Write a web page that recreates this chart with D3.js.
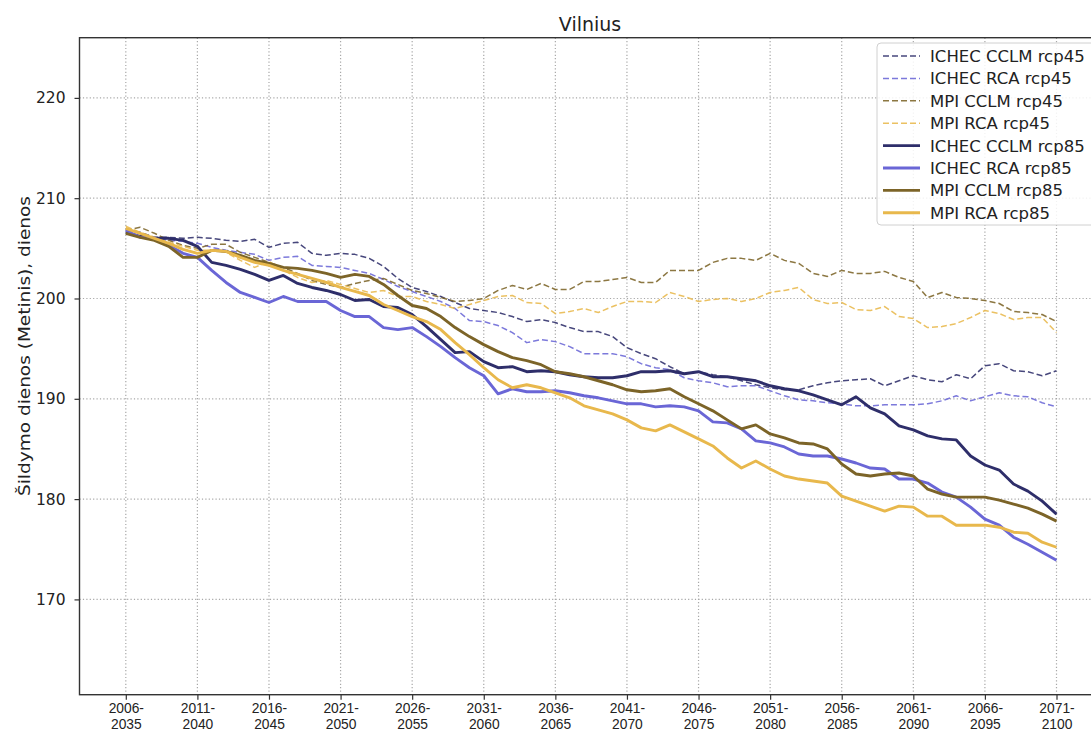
<!DOCTYPE html>
<html><head><meta charset="utf-8">
<script src="https://cdn.jsdelivr.net/npm/d3@7"></script>
<style>
html,body{margin:0;padding:0;background:#fff;}
svg{display:block;font-family:"DejaVu Sans",sans-serif;}
</style></head>
<body>
<svg id="chart" width="1091" height="733"></svg>
<script>
const categories = ["2006-2035","2007-2036","2008-2037","2009-2038","2010-2039","2011-2040","2012-2041","2013-2042","2014-2043","2015-2044",
"2016-2045","2017-2046","2018-2047","2019-2048","2020-2049","2021-2050","2022-2051","2023-2052","2024-2053","2025-2054",
"2026-2055","2027-2056","2028-2057","2029-2058","2030-2059","2031-2060","2032-2061","2033-2062","2034-2063","2035-2064",
"2036-2065","2037-2066","2038-2067","2039-2068","2040-2069","2041-2070","2042-2071","2043-2072","2044-2073","2045-2074",
"2046-2075","2047-2076","2048-2077","2049-2078","2050-2079","2051-2080","2052-2081","2053-2082","2054-2083","2055-2084",
"2056-2085","2057-2086","2058-2087","2059-2088","2060-2089","2061-2090","2062-2091","2063-2092","2064-2093","2065-2094",
"2066-2095","2067-2096","2068-2097","2069-2098","2070-2099","2071-2100"];

const xTickLabels = ["2006-2035","2011-2040","2016-2045","2021-2050","2026-2055","2031-2060","2036-2065","2041-2070","2046-2075","2051-2080","2056-2085","2061-2090","2066-2095","2071-2100"];
const yTicks = [170,180,190,200,210,220];

const ICHEC_CCLM_rcp45 = [206.8,206.6,206.1,206.1,206.0,206.1,206.0,205.8,205.7,205.9,
205.1,205.5,205.6,204.5,204.3,204.5,204.4,204.0,203.2,202.0,
201.1,200.7,200.2,199.6,199.0,198.8,198.6,198.2,197.7,197.9,
197.6,197.1,196.7,196.7,196.2,195.1,194.5,194.0,193.2,192.5,
192.7,192.4,192.2,191.8,191.4,191.1,190.9,190.9,191.3,191.6,
191.8,191.9,192.0,191.3,191.8,192.3,191.9,191.7,192.4,192.0,
193.3,193.5,192.8,192.7,192.3,192.8];
const ICHEC_RCA_rcp45 = [206.9,206.5,206.0,205.8,205.7,205.5,205.1,204.8,204.6,204.4,
203.8,204.1,204.2,203.3,203.2,203.1,202.8,202.5,201.9,201.2,
200.7,200.2,199.7,199.0,197.8,197.7,197.3,196.6,195.6,195.9,
195.7,195.2,194.5,194.5,194.5,194.2,193.5,193.1,192.9,192.1,
191.8,191.6,191.2,191.3,191.3,190.8,190.3,189.9,189.8,189.6,
189.5,189.3,189.3,189.4,189.4,189.4,189.5,189.8,190.3,189.8,
190.2,190.6,190.3,190.2,189.6,189.2];
const MPI_CCLM_rcp45 = [206.8,207.1,206.5,205.8,205.3,205.0,205.4,205.4,204.6,204.1,
203.6,203.1,202.5,201.8,201.4,201.1,201.5,201.8,202.0,201.4,
200.8,200.5,200.1,199.7,199.8,200.0,200.8,201.3,200.9,201.5,
200.9,200.9,201.7,201.7,201.9,202.1,201.6,201.6,202.8,202.8,
202.8,203.6,204.0,204.0,203.8,204.5,203.8,203.5,202.5,202.2,
202.8,202.5,202.5,202.7,202.1,201.7,200.1,200.6,200.1,200.0,
199.8,199.5,198.7,198.6,198.4,197.7];
const MPI_RCA_rcp45 = [207.2,206.6,206.1,205.6,205.2,204.8,204.8,204.6,203.8,203.1,
203.7,202.8,202.1,201.6,201.8,201.4,201.0,200.6,200.8,200.2,
200.2,199.7,199.4,199.0,199.4,199.8,200.2,200.3,199.6,199.5,
198.5,198.7,199.0,198.6,199.2,199.7,199.7,199.6,200.6,200.2,
199.7,199.9,200.0,199.7,200.0,200.6,200.8,201.1,199.9,199.5,
199.6,198.9,198.8,199.2,198.2,198.0,197.1,197.2,197.5,198.1,
198.8,198.5,197.9,198.1,198.1,196.6];
const ICHEC_CCLM_rcp85 = [206.6,206.2,206.0,206.0,205.8,205.2,203.6,203.3,202.9,202.4,
201.8,202.3,201.5,201.1,200.8,200.4,199.8,199.9,199.2,199.1,
198.4,197.2,195.9,194.6,194.7,193.7,193.1,193.2,192.7,192.8,
192.7,192.4,192.2,192.1,192.1,192.3,192.7,192.7,192.8,192.5,
192.7,192.2,192.2,192.0,191.8,191.3,191.0,190.8,190.4,189.9,
189.4,190.2,189.1,188.5,187.3,186.9,186.3,186.0,185.9,184.3,
183.4,182.9,181.5,180.8,179.8,178.5];
const ICHEC_RCA_rcp85 = [206.8,206.1,206.0,205.3,204.5,204.1,202.8,201.6,200.6,200.1,
199.6,200.2,199.7,199.7,199.7,198.8,198.2,198.2,197.1,196.9,
197.1,196.2,195.2,194.1,193.1,192.3,190.5,191.0,190.7,190.7,
190.8,190.6,190.3,190.1,189.8,189.5,189.5,189.2,189.3,189.2,
188.8,187.7,187.6,187.0,185.8,185.6,185.2,184.5,184.3,184.3,
184.0,183.6,183.1,183.0,182.0,182.0,181.6,180.7,180.2,179.2,
178.0,177.4,176.2,175.5,174.7,173.9];
const MPI_CCLM_rcp85 = [206.5,206.1,205.8,205.2,204.1,204.1,204.8,204.7,204.3,203.8,
203.5,203.1,203.0,202.8,202.5,202.1,202.4,202.2,201.4,200.3,
199.3,199.0,198.2,197.1,196.2,195.4,194.7,194.1,193.8,193.4,
192.7,192.5,192.2,191.8,191.4,190.9,190.7,190.8,191.0,190.2,
189.5,188.8,187.9,187.0,187.4,186.5,186.1,185.6,185.5,185.0,
183.5,182.5,182.3,182.5,182.6,182.3,181.0,180.5,180.2,180.2,
180.2,179.9,179.5,179.1,178.5,177.8];
const MPI_RCA_rcp85 = [207.0,206.5,206.0,205.5,204.9,204.5,204.8,204.7,204.1,203.6,
203.3,202.8,202.4,202.0,201.6,201.1,200.7,200.3,199.4,198.8,
198.2,197.7,196.9,195.6,194.4,193.1,191.9,191.1,191.4,191.1,
190.6,190.1,189.3,188.9,188.5,187.9,187.1,186.8,187.4,186.7,
186.0,185.3,184.1,183.1,183.8,183.0,182.3,182.0,181.8,181.6,
180.3,179.8,179.3,178.8,179.3,179.2,178.3,178.3,177.4,177.4,
177.4,177.2,176.7,176.6,175.7,175.2];

const seriesNames = ["ICHEC CCLM rcp45","ICHEC RCA rcp45","MPI CCLM rcp45","MPI RCA rcp45",
                     "ICHEC CCLM rcp85","ICHEC RCA rcp85","MPI CCLM rcp85","MPI RCA rcp85"];
const seriesValues = [ICHEC_CCLM_rcp45, ICHEC_RCA_rcp45, MPI_CCLM_rcp45, MPI_RCA_rcp45,
                      ICHEC_CCLM_rcp85, ICHEC_RCA_rcp85, MPI_CCLM_rcp85, MPI_RCA_rcp85];

const colors = ["#2e2e6a","#6a66d6","#7c6428","#e8b84c","#2e2e6a","#6a66d6","#7c6428","#e8b84c"];
const dashed = [true,true,true,true,false,false,false,false];

const svg = d3.select("#chart");
const pLeft = 79.5, pRight = 1100, pTop = 37.7, pBottom = 694.7;

const x = d3.scalePoint().domain(categories).range([125.8, 1056.5]);
const y = d3.scaleLinear().domain([160.5, 226]).range([pBottom, pTop]);

// grid
const grid = svg.append("g");
grid.selectAll("line.gx").data(xTickLabels).enter().append("line")
  .attr("x1", d => x(d)).attr("x2", d => x(d)).attr("y1", pTop).attr("y2", pBottom)
  .attr("stroke", "#a8a8a8").attr("stroke-width", 1.2).attr("stroke-dasharray", "1.2,2.2");
grid.selectAll("line.gy").data(yTicks).enter().append("line")
  .attr("x1", pLeft).attr("x2", pRight).attr("y1", d => y(d)).attr("y2", d => y(d))
  .attr("stroke", "#a8a8a8").attr("stroke-width", 1.2).attr("stroke-dasharray", "1.2,2.2");

// lines
const line = d3.line().x((d, i) => x(categories[i])).y(d => y(d));
seriesValues.forEach((vals, k) => {
  svg.append("path").datum(vals)
    .attr("d", line)
    .attr("fill", "none")
    .attr("stroke", colors[k])
    .attr("stroke-width", dashed[k] ? 1.5 : 2.9)
    .attr("stroke-opacity", dashed[k] ? 0.88 : 1)
    .attr("stroke-dasharray", dashed[k] ? "6,3" : null)
    .attr("stroke-linejoin", "round");
});

// axes
const xAxis = d3.axisBottom(x).tickValues(xTickLabels).tickSize(5).tickFormat("");
const gx = svg.append("g").attr("transform", `translate(0,${pBottom})`).call(xAxis);
gx.select(".domain").remove();
gx.selectAll(".tick line").attr("stroke", "#333").attr("stroke-width", 1.2);
gx.selectAll(".tick").each(function(d) {
  const parts = d.split("-");
  const g = d3.select(this);
  g.append("text").attr("fill", "#222").attr("font-size", 13.8).attr("text-anchor", "middle")
    .attr("x", 0).attr("y", 18.6).text(parts[0] + "-");
  g.append("text").attr("fill", "#222").attr("font-size", 13.8).attr("text-anchor", "middle")
    .attr("x", 0).attr("y", 34.8).text(parts[1]);
});

const yAxis = d3.axisLeft(y).tickValues(yTicks).tickSize(5).tickPadding(9);
const gy = svg.append("g").attr("transform", `translate(${pLeft},0)`).call(yAxis);
gy.select(".domain").remove();
gy.selectAll(".tick line").attr("stroke", "#333").attr("stroke-width", 1.2);
gy.selectAll(".tick text").attr("fill", "#222").attr("font-size", 15.5)
  .attr("font-family", "DejaVu Sans");

// frame
svg.append("rect").attr("x", pLeft).attr("y", pTop).attr("width", pRight - pLeft).attr("height", pBottom - pTop)
  .attr("fill", "none").attr("stroke", "#333").attr("stroke-width", 1.4);

// title
svg.append("text").attr("x", 590).attr("y", 30.5).attr("text-anchor", "middle")
  .attr("font-size", 19).attr("fill", "#222").text("Vilnius");

// y label
svg.append("text").attr("transform", "translate(30,346) rotate(-90)")
  .attr("text-anchor", "middle").attr("font-size", 16).attr("fill", "#222")
  .attr("textLength", 300).attr("lengthAdjust", "spacingAndGlyphs")
  .text("Šildymo dienos (Metinis), dienos");

// legend
const lg = svg.append("g");
lg.append("rect").attr("x", 877).attr("y", 43).attr("width", 222).attr("height", 182)
  .attr("rx", 4).attr("fill", "#fff").attr("fill-opacity", 0.85)
  .attr("stroke", "#d0d0d0").attr("stroke-width", 1);
seriesNames.forEach((name, k) => {
  const cy = 56 + k * 22.4;
  lg.append("line").attr("x1", 883).attr("x2", 920).attr("y1", cy).attr("y2", cy)
    .attr("stroke", colors[k]).attr("stroke-width", dashed[k] ? 1.5 : 2.9)
    .attr("stroke-opacity", dashed[k] ? 0.88 : 1)
    .attr("stroke-dasharray", dashed[k] ? "6,3" : null);
  lg.append("text").attr("x", 930).attr("y", cy + 6).attr("font-size", 16.5)
    .attr("fill", "#222").text(name);
});
</script>
</body></html>
